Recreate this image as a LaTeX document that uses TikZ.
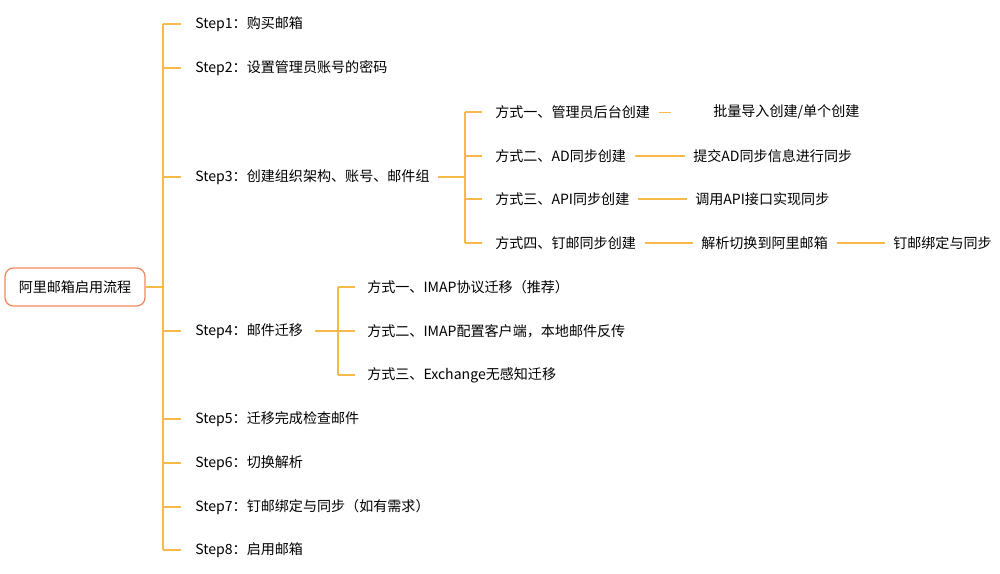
\documentclass[tikz,border=0pt]{standalone}
\usepackage{fontspec}
\setmainfont{Noto Sans CJK SC}
\usetikzlibrary{positioning}
\definecolor{linec}{HTML}{F6B94A}
\definecolor{rootc}{HTML}{EE8A5E}
\tikzset{
  item/.style={anchor=west,inner sep=0pt,font=\fontsize{10pt}{12pt}\selectfont},
  link/.style={draw=linec,line width=1.1pt},
  thin link/.style={draw=linec,line width=0.6pt}
}
\begin{document}
\begin{tikzpicture}[x=0.025cm,y=-0.025cm]
	\useasboundingbox (0,0) rectangle (1000,573);
	% root
	\node[draw=rootc,line width=0.9pt,rounded corners=6pt,minimum width=3.5cm,minimum height=0.95cm,inner sep=0pt,font=\fontsize{10pt}{12pt}\selectfont] (root) at (75,287) {阿里邮箱启用流程};
	\coordinate (trunk) at (163,287);
	\draw[link] (root.east) -- (trunk);
	\draw[link] (163,24) -- (163,550);
	% steps
	\foreach \n/\y/\t in {s1/24/Step1：购买邮箱, s2/68/Step2：设置管理员账号的密码,
		s3/177/Step3：创建组织架构、账号、邮件组, s4/331/Step4：邮件迁移,
		s5/419/Step5：迁移完成检查邮件, s6/463/Step6：切换解析,
		s7/507/Step7：钉邮绑定与同步（如有需求）, s8/550/Step8：启用邮箱}{
		\node[item] (\n) at (195,\y) {\t};
		\draw[link] (163,\y) -- (181,\y);
	}
	% step3 children
	\draw[link] ([xshift=6pt]s3.east) -- (465,177);
	\draw[link] (465,112) -- (465,243);
	\foreach \n/\y/\t in {a1/112/方式一、管理员后台创建, a2/156/方式二、AD同步创建,
		a3/199/方式三、API同步创建, a4/243/方式四、钉邮同步创建}{
		\node[item] (\n) at (495,\y) {\t};
		\draw[link] (465,\y) -- (482,\y);
	}
	\node[item] (b1) at (713,112) {批量导入创建/单个创建};
	\node[item] (b2) at (693,156) {提交AD同步信息进行同步};
	\node[item] (b3) at (695,199) {调用API接口实现同步};
	\node[item] (b4) at (701,243) {解析切换到阿里邮箱};
	\node[item] (c4) at (893,243) {钉邮绑定与同步};
	\draw[thin link] ([xshift=6pt]a1.east) -- ([xshift=-30pt]b1.west);
	\draw[link] ([xshift=6pt]a2.east) -- ([xshift=-6pt]b2.west);
	\draw[link] ([xshift=6pt]a3.east) -- ([xshift=-6pt]b3.west);
	\draw[link] ([xshift=6pt]a4.east) -- ([xshift=-6pt]b4.west);
	\draw[link] ([xshift=6pt]b4.east) -- ([xshift=-6pt]c4.west);
	% step4 children
	\draw[link] ([xshift=8pt]s4.east) -- (338,331);
	\draw[link] (338,287) -- (338,375);
	\foreach \n/\y/\t in {m1/287/方式一、IMAP协议迁移（推荐）, m2/331/方式二、IMAP配置客户端，本地邮件反传,
		m3/375/方式三、Exchange无感知迁移}{
		\node[item] (\n) at (367,\y) {\t};
		\draw[link] (338,\y) -- (355,\y);
	}
\end{tikzpicture}
\end{document}
